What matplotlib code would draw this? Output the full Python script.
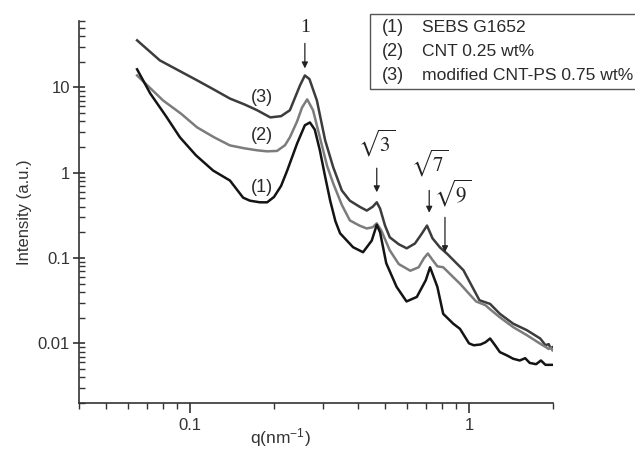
import matplotlib
matplotlib.use("Agg")
import matplotlib.pyplot as plt
from matplotlib.patches import Rectangle
from matplotlib.ticker import LogLocator, NullFormatter, FixedLocator, FixedFormatter

plt.rcParams['font.family'] = ['Liberation Sans', 'DejaVu Sans']
plt.rcParams['mathtext.fontset'] = 'stix'
plt.rcParams['mathtext.default'] = 'regular'

# (3) modified CNT-PS 0.75 wt%
q3 = [0.0646, 0.078, 0.092, 0.106, 0.122, 0.139, 0.157, 0.174, 0.194, 0.212,
      0.228, 0.248, 0.258, 0.268, 0.285, 0.305, 0.326, 0.350, 0.374, 0.405,
      0.430, 0.452, 0.467, 0.480, 0.50, 0.52, 0.56, 0.598, 0.64, 0.675,
      0.707, 0.74, 0.787, 0.835, 0.955, 1.09, 1.19, 1.29, 1.44, 1.61,
      1.80, 1.88, 1.93, 1.96, 1.99]
I3 = [35.6, 20.7, 15.5, 12.1, 9.4, 7.4, 6.3, 5.4, 4.45, 4.6,
      5.4, 10.6, 13.8, 12.5, 7.0, 2.4, 1.16, 0.62, 0.47, 0.40,
      0.36, 0.40, 0.45, 0.38, 0.24, 0.175, 0.145, 0.13, 0.148, 0.19,
      0.24, 0.17, 0.133, 0.112, 0.072, 0.032, 0.029, 0.0222, 0.017, 0.0143,
      0.0114, 0.0095, 0.0098, 0.0088, 0.0090]

# (2) CNT 0.25 wt%
q2 = [0.0646, 0.080, 0.093, 0.106, 0.122, 0.139, 0.157, 0.174, 0.189, 0.205,
      0.219, 0.228, 0.242, 0.252, 0.263, 0.276, 0.292, 0.310, 0.326, 0.350,
      0.374, 0.405, 0.430, 0.452, 0.467, 0.485, 0.52, 0.56, 0.616, 0.66,
      0.69, 0.712, 0.74, 0.77, 0.808, 0.928, 1.06, 1.145, 1.20, 1.29,
      1.44, 1.61, 1.80, 1.88, 1.93, 1.96, 1.99]
I2 = [13.8, 7.04, 4.9, 3.4, 2.6, 2.09, 1.93, 1.83, 1.78, 1.8,
      2.1, 2.6, 4.0, 5.8, 7.24, 5.4, 2.6, 1.2, 0.75, 0.42,
      0.276, 0.24, 0.222, 0.23, 0.255, 0.21, 0.123, 0.085, 0.071, 0.078,
      0.10, 0.113, 0.095, 0.080, 0.078, 0.050, 0.031, 0.028, 0.0245, 0.0202,
      0.0155, 0.0125, 0.0099, 0.0091, 0.0086, 0.0089, 0.0083]

# (1) SEBS G1652
q1 = [0.0646, 0.072, 0.082, 0.092, 0.105, 0.121, 0.139, 0.155, 0.164, 0.178,
      0.189, 0.200, 0.212, 0.223, 0.242, 0.258, 0.269, 0.280, 0.292, 0.305,
      0.318, 0.332, 0.345, 0.384, 0.417, 0.448, 0.467, 0.480, 0.505, 0.55,
      0.597, 0.65, 0.70, 0.725, 0.77, 0.808, 0.878, 0.928, 1.0, 1.04,
      1.10, 1.145, 1.19, 1.24, 1.29, 1.37, 1.44, 1.52, 1.59, 1.65,
      1.74, 1.81, 1.88, 1.98]
I1 = [16.3, 8.5, 4.6, 2.6, 1.6, 1.06, 0.81, 0.51, 0.47, 0.45,
      0.45, 0.52, 0.70, 1.06, 2.2, 3.6, 3.88, 3.2, 1.83, 0.9,
      0.47, 0.27, 0.195, 0.134, 0.117, 0.16, 0.245, 0.2, 0.087, 0.046,
      0.031, 0.035, 0.055, 0.078, 0.046, 0.0222, 0.0170, 0.0148, 0.0100, 0.0095,
      0.0097, 0.0103, 0.0114, 0.0095, 0.0079, 0.0072, 0.0066, 0.0063, 0.0067, 0.0059,
      0.0057, 0.0063, 0.0056, 0.0056]

legend_nums = ['(1)', '(2)', '(3)']
legend_names = ['SEBS G1652', 'CNT 0.25 wt%', 'modified CNT-PS 0.75 wt%']

fig = plt.figure(figsize=(6.35, 4.49), dpi=100)
ax = fig.add_axes([79 / 635, 46 / 449, 474 / 635, 382 / 449])

ax.plot(q3, I3, color='#3c3c3c', lw=1.8)
ax.plot(q2, I2, color='#7c7c7c', lw=1.8)
ax.plot(q1, I1, color='#141414', lw=1.8)

ax.set_xscale('log')
ax.set_yscale('log')
ax.set_xlim(0.04, 2)
ax.set_ylim(0.002, 60)

for s in ['top', 'right']:
    ax.spines[s].set_visible(False)
for s in ['left', 'bottom']:
    ax.spines[s].set_linewidth(1.2)
    ax.spines[s].set_color('#333333')

ax.xaxis.set_major_locator(FixedLocator([0.1, 1]))
ax.xaxis.set_major_formatter(FixedFormatter(['0.1', '1']))
ax.xaxis.set_minor_locator(LogLocator(base=10, subs=range(2, 10)))
ax.xaxis.set_minor_formatter(NullFormatter())
ax.yaxis.set_major_locator(FixedLocator([0.01, 0.1, 1, 10]))
ax.yaxis.set_major_formatter(FixedFormatter(['0.01', '0.1', '1', '10']))
ax.yaxis.set_minor_locator(LogLocator(base=10, subs=range(2, 10)))
ax.yaxis.set_minor_formatter(NullFormatter())

ax.tick_params(axis='x', which='major', direction='out', length=7, width=1.2,
               labelsize=12, colors='#333333', pad=4)
ax.tick_params(axis='x', which='minor', direction='out', length=4, width=1.0, colors='#333333')
ax.tick_params(axis='y', which='major', direction='inout', length=9, width=1.2,
               labelsize=12, colors='#333333', pad=2)
ax.tick_params(axis='y', which='minor', direction='in', length=4, width=1.0, colors='#333333')

ax.set_ylabel('Intensity (a.u.)', fontsize=12, color='#333333', labelpad=4)
ax.text(0.424, -0.09, 'q(nm$^{-1}$)', transform=ax.transAxes, fontsize=12.5,
        color='#333333', ha='center', va='center')

# curve labels
for txt, yv in [('(3)', 7.64), ('(2)', 2.73), ('(1)', 0.67)]:
    ax.text(0.181, yv, txt, fontsize=13, color='#2a2a2a', ha='center', va='center')

# peak markers
peaks = [('1', 0.258, 50.7, 0.258, 32.8, 16.7),
         (r'$\sqrt{\mathrm{3}}$', 0.467, 2.2, 0.467, 1.13, 0.59),
         (r'$\sqrt{\mathrm{7}}$', 0.72, 1.28, 0.72, 0.62, 0.34),
         (r'$\sqrt{\mathrm{9}}$', 0.874, 0.57, 0.82, 0.30, 0.117)]
for lab, tx, ty, ax_q, y0, y1 in peaks:
    if lab == '1':
        ax.text(tx, ty, lab, fontsize=14, family='Liberation Serif', color='#222222',
                ha='center', va='center')
    else:
        ax.text(tx, ty, lab, fontsize=15, color='#222222', ha='center', va='center')
    ax.annotate('', xy=(ax_q, y1), xytext=(ax_q, y0),
                arrowprops=dict(arrowstyle='-|>', color='#222222', lw=0.9,
                                mutation_scale=9, shrinkA=0, shrinkB=0))

# legend box
fig.patches.append(Rectangle((370 / 635, 1 - 89 / 449), 270 / 635, 75 / 449,
                             transform=fig.transFigure, fill=False,
                             edgecolor='#555555', lw=1.0))
for i, (n, name) in enumerate(zip(legend_nums, legend_names)):
    yy = 1 - (28 + 24 * i) / 449
    fig.text(382 / 635, yy, n, fontsize=13, color='#2a2a2a', va='center')
    fig.text(422 / 635, yy, name, fontsize=12.6, color='#2a2a2a', va='center')

fig.savefig('out.png', dpi=100)
